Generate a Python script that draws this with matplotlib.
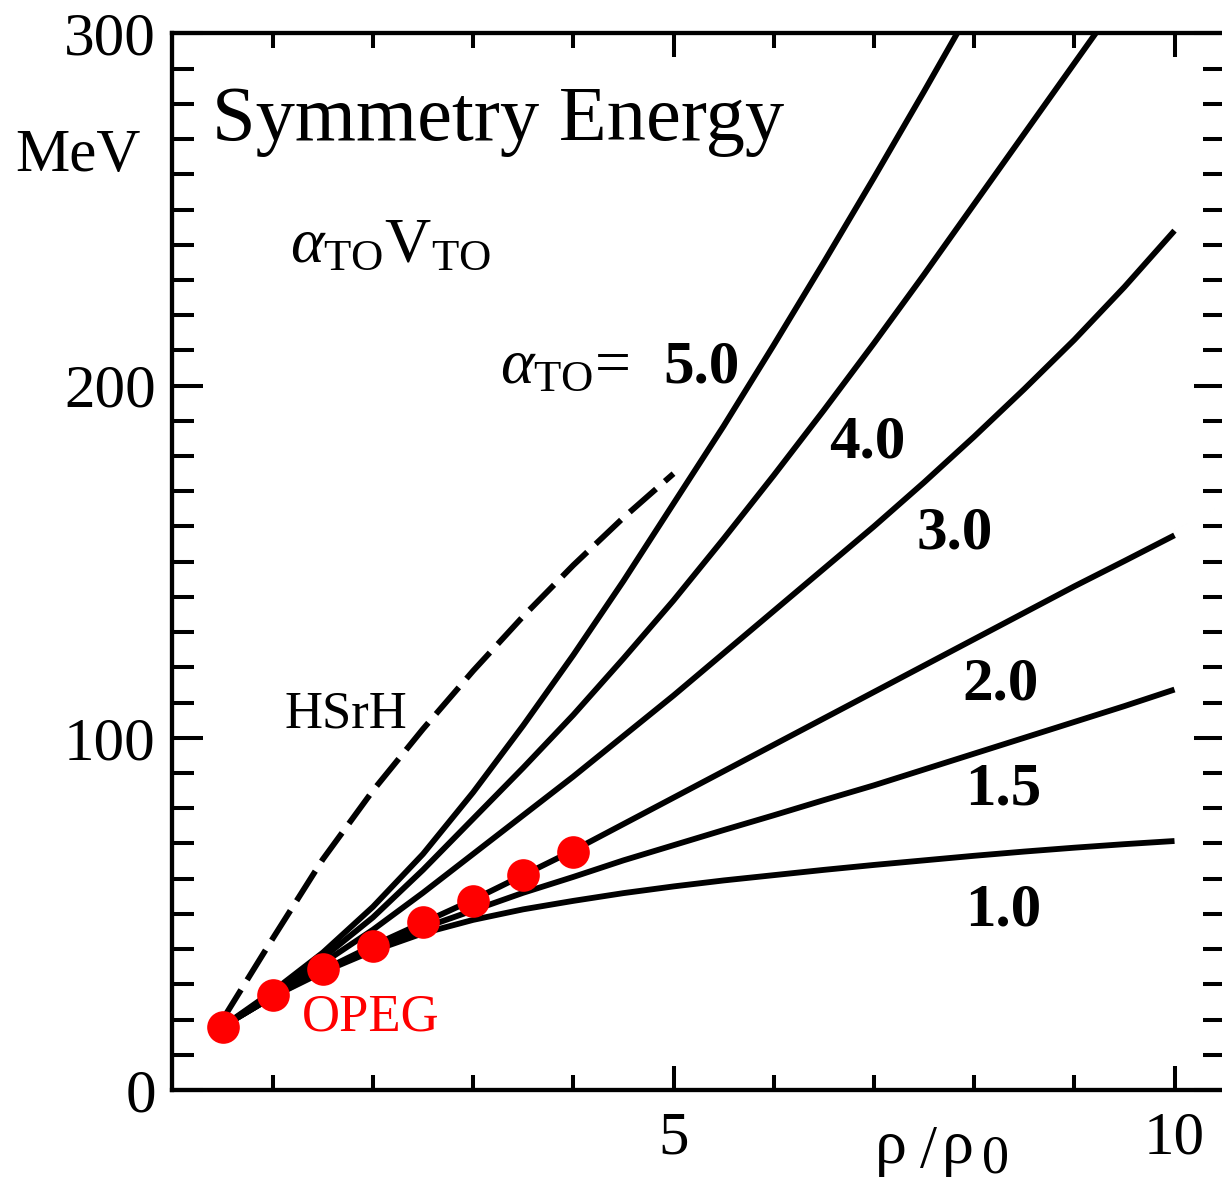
import numpy as np
import matplotlib
matplotlib.use('Agg')
import matplotlib.pyplot as plt
import matplotlib as mpl

# Symmetry energy vs density, alpha_TO curves
rho = [0.5, 1.0, 1.5, 2.0, 2.5, 3.0, 3.5, 4.0, 4.5, 5.0,
       5.5, 6.0, 6.5, 7.0, 7.5, 8.0, 8.5, 9.0, 9.5, 10.0]

esym_10 = [18, 26.5, 33.5, 39.5, 44.5, 48.3, 51.3, 53.7, 55.9, 57.8,
           59.5, 61, 62.5, 63.9, 65.2, 66.5, 67.7, 68.8, 69.8, 70.7]
esym_15 = [18, 26.5, 34, 40.5, 46, 51, 56, 60.5, 65.2, 69.5,
           73.8, 78, 82.3, 86.5, 91, 95.5, 100, 104.5, 109, 113.7]
esym_20 = [18, 26.5, 34, 41, 47.5, 54, 61, 68, 75.5, 83,
           90.5, 98, 105.5, 113, 120.5, 128, 135.5, 143, 150.2, 157.5]
esym_30 = [18, 27, 36, 45.5, 56, 67, 78, 89, 100.5, 112,
           124, 136, 148, 160, 172.5, 185.5, 199, 213, 228, 244]
esym_40 = [18, 27.5, 37.5, 49, 62.5, 77, 91.5, 106.5, 122.5, 139,
           156.5, 174.5, 193, 212, 231.5, 251.5, 271.5, 291.5, 311.5]
esym_50 = [18, 28, 39, 52, 67, 84.5, 103.5, 123.5, 144.5, 166.5,
           188.5, 211.5, 235, 259, 283.5, 308.5]

# HSrH (dashed)
hsrh_rho = [0.5, 1.0, 1.5, 2.0, 2.5, 3.0, 3.5, 4.0, 4.5, 5.0]
hsrh_e = [20, 43, 65.5, 85, 102.5, 119, 134.5, 149, 162.5, 175]

# OPEG points
opeg_rho = [0.5, 1.0, 1.5, 2.0, 2.5, 3.0, 3.5, 4.0]
opeg_e = [17.9, 27.0, 34.3, 40.9, 47.7, 53.6, 61.0, 67.6]

curve_labels = ['4.0', '3.0', '2.0', '1.5', '1.0']

mpl.rcParams['font.family'] = ['Liberation Serif', 'DejaVu Serif']
mpl.rcParams['mathtext.fontset'] = 'custom'
mpl.rcParams['mathtext.rm'] = 'Liberation Serif'
mpl.rcParams['mathtext.it'] = 'Liberation Serif:italic'
mpl.rcParams['mathtext.bf'] = 'Liberation Serif:bold'

lw = 4.2

fig = plt.figure(figsize=(12.22, 11.84), dpi=100)
ax = fig.add_axes([0.14116, 0.07939, 0.86097, 0.89240])
ax.set_xlim(0, 10.5)
ax.set_ylim(0, 300)

for sp in ax.spines.values():
    sp.set_linewidth(3.1)

# curves
for e in [esym_10, esym_15, esym_20, esym_30, esym_40, esym_50]:
    ax.plot(rho[:len(e)], e, color='black', lw=lw, solid_capstyle='butt',
            solid_joinstyle='round', zorder=3)
ax.plot(hsrh_rho, hsrh_e, color='black', lw=lw, dashes=(6, 2),
        dash_capstyle='butt', zorder=2)
ax.plot(opeg_rho, opeg_e, 'o', color='red', ms=23.5, mec='none', zorder=4)

# ticks
ax.set_xticks([5, 10])
ax.set_xticks([1, 2, 3, 4, 6, 7, 8, 9], minor=True)
ax.set_yticks([0, 100, 200, 300])
ax.set_yticks(np.arange(0, 301, 10), minor=True)
ax.tick_params(axis='both', which='both', direction='in', top=True, right=True,
               width=2.9, labelsize=44)
ax.tick_params(axis='x', which='major', length=17, pad=15)
ax.tick_params(axis='x', which='minor', length=11)
ax.tick_params(axis='y', which='major', length=22, pad=12)
ax.tick_params(axis='y', which='minor', length=16)

# text
ax.text(0.39, 269.7, 'Symmetry Energy', fontsize=56.5, va='baseline')
ax.text(-1.57, 260.9, 'MeV', fontsize=44, va='baseline', clip_on=False)
ax.text(1.17, 235, r'$\alpha_{\mathrm{TO}}\mathrm{V}_{\mathrm{TO}}$',
        fontsize=46, va='baseline')
ax.text(3.27, 200.7, r'$\alpha_{\mathrm{TO}}$=', fontsize=46,
        va='baseline')
ax.text(4.895, 201, '5.0', fontsize=44, fontweight='bold', va='baseline')
lab_x = [6.55, 7.43, 7.88, 7.91, 7.91]
lab_y = [179.7, 153.8, 111, 81.2, 46.8]
for t, lx, ly in zip(curve_labels, lab_x, lab_y):
    ax.text(lx, ly, t, fontsize=44, fontweight='bold', va='baseline')
ax.text(1.12, 102.8, 'HSrH', fontsize=38, va='baseline')
ax.text(1.29, 17.0, 'OPEG', fontsize=38, color='red', va='baseline')

# x axis label: rho / rho_0 with a big, lowered 0
ax.text(7.01, -20.7, 'ρ', fontsize=46, va='baseline', clip_on=False)
ax.text(7.46, -22, '/', fontsize=44, va='baseline', clip_on=False)
ax.text(7.68, -20.7, 'ρ', fontsize=46, va='baseline', clip_on=False)
ax.text(8.08, -23.5, '0', fontsize=39, va='baseline', clip_on=False)

fig.savefig('out.png', dpi=100)
